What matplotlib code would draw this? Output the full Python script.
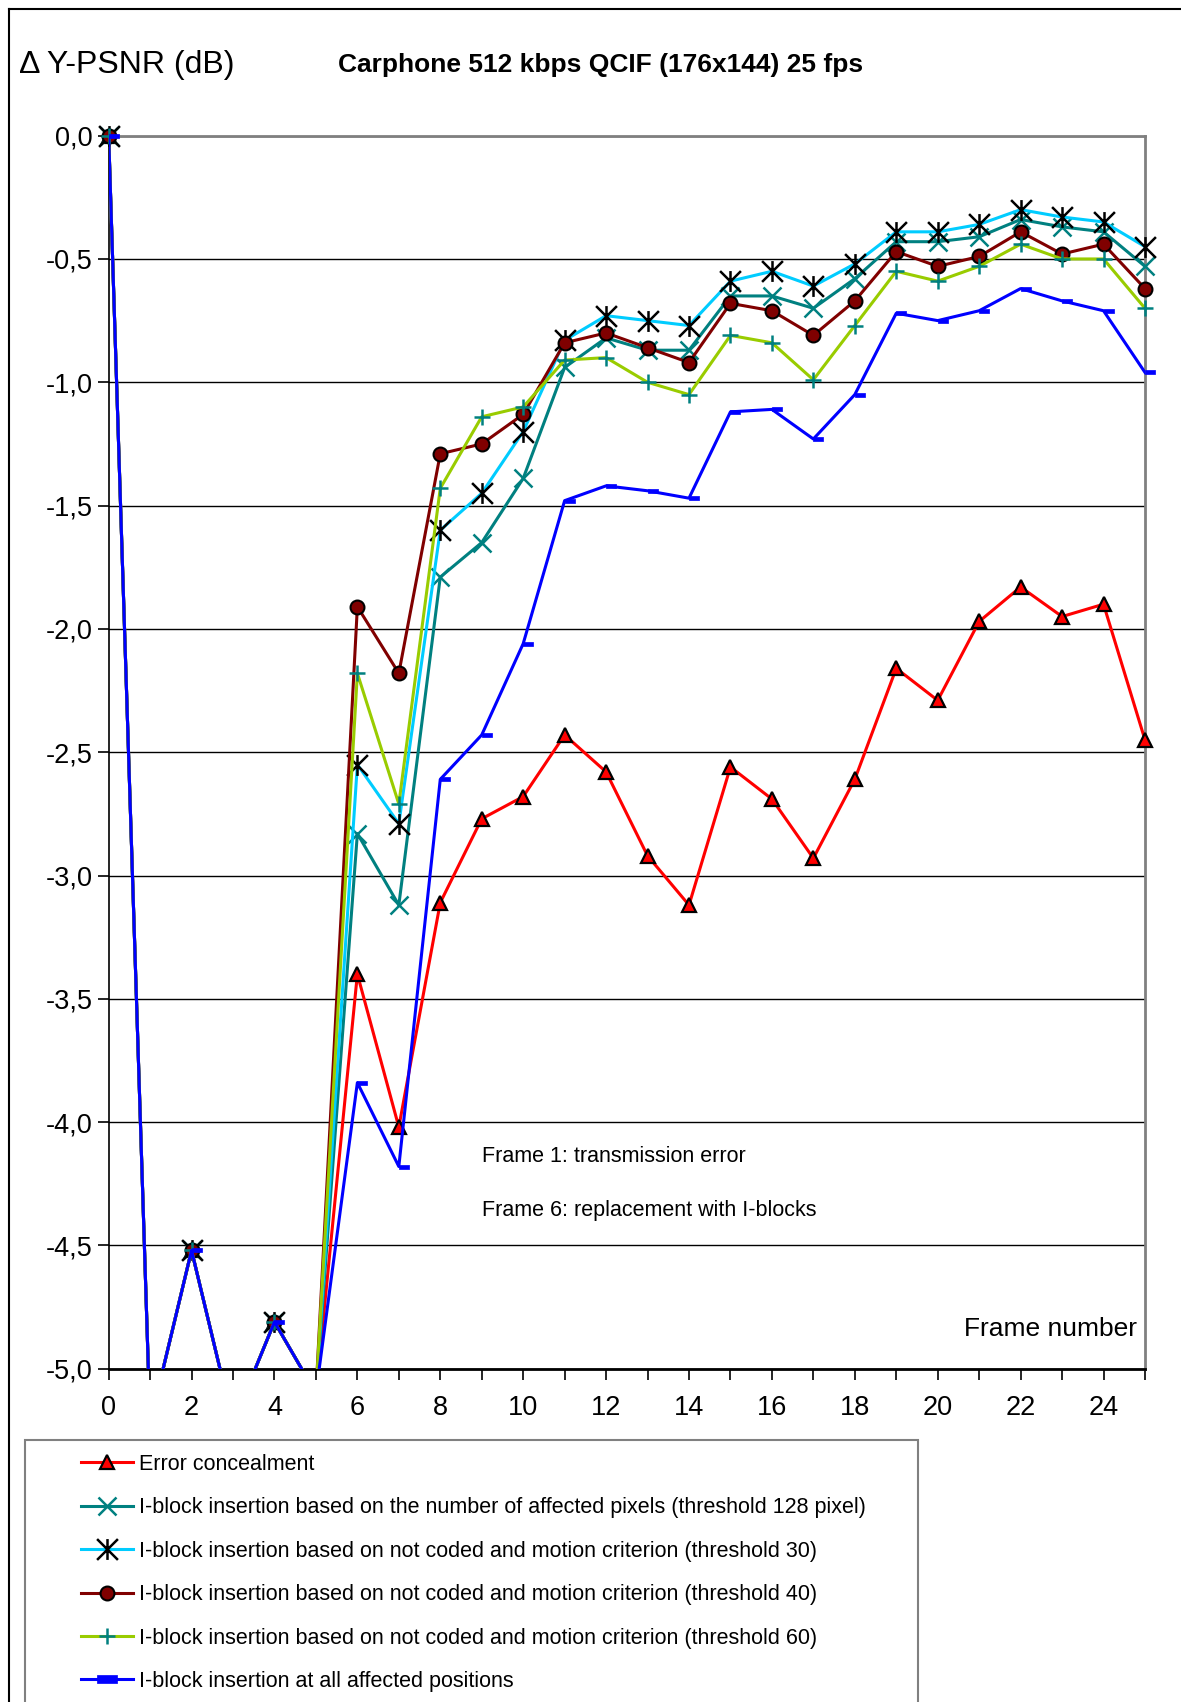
import numpy as np
import matplotlib.pyplot as plt
from matplotlib.path import Path
from matplotlib.lines import Line2D
from matplotlib.patches import Rectangle
from matplotlib.ticker import MultipleLocator, FuncFormatter

plt.rcParams['font.family'] = ['Liberation Sans', 'DejaVu Sans']

# Delta Y-PSNR per frame (dB); frames 0-5 are identical for all methods
frames = np.arange(26)
common = [0.0, -5.22, -4.52, -5.22, -4.81, -5.10]
err_conceal = common + [-3.40, -4.02, -3.11, -2.77, -2.68, -2.43, -2.58, -2.92, -3.12, -2.56,
                        -2.69, -2.93, -2.61, -2.16, -2.29, -1.97, -1.83, -1.95, -1.90, -2.45]
pix_128 = common + [-2.83, -3.12, -1.79, -1.65, -1.39, -0.94, -0.82, -0.87, -0.87, -0.65,
                    -0.65, -0.70, -0.58, -0.43, -0.43, -0.41, -0.34, -0.37, -0.39, -0.53]
thr_30 = common + [-2.55, -2.79, -1.60, -1.45, -1.20, -0.83, -0.73, -0.75, -0.77, -0.59,
                   -0.55, -0.61, -0.52, -0.39, -0.39, -0.36, -0.30, -0.33, -0.35, -0.45]
thr_40 = common + [-1.91, -2.18, -1.29, -1.25, -1.13, -0.84, -0.80, -0.86, -0.92, -0.68,
                   -0.71, -0.81, -0.67, -0.47, -0.53, -0.49, -0.39, -0.48, -0.44, -0.62]
thr_60 = common + [-2.18, -2.71, -1.43, -1.14, -1.10, -0.91, -0.90, -1.00, -1.05, -0.81,
                   -0.84, -0.99, -0.77, -0.55, -0.59, -0.53, -0.44, -0.50, -0.50, -0.70]
all_pos = common + [-3.84, -4.18, -2.61, -2.43, -2.06, -1.48, -1.42, -1.44, -1.47, -1.12,
                    -1.11, -1.23, -1.05, -0.72, -0.75, -0.71, -0.62, -0.67, -0.71, -0.96]

labels = [
    "Error concealment",
    "I-block insertion based on the number of affected pixels (threshold 128 pixel)",
    "I-block insertion based on not coded and motion criterion (threshold 30)",
    "I-block insertion based on not coded and motion criterion (threshold 40)",
    "I-block insertion based on not coded and motion criterion (threshold 60)",
    "I-block insertion at all affected positions",
]
series = [err_conceal, pix_128, thr_30, thr_40, thr_60, all_pos]

# excel-like markers: asterisk (x + vertical bar) and a short dash right of the point
star = Path([(-1, -1), (1, 1), (-1, 1), (1, -1), (0, -1), (0, 1)],
            [Path.MOVETO, Path.LINETO, Path.MOVETO, Path.LINETO, Path.MOVETO, Path.LINETO])
dash = Path([(0, -0.2), (1, -0.2), (1, 0.2), (0, 0.2), (0, -0.2)],
            [Path.MOVETO, Path.LINETO, Path.LINETO, Path.LINETO, Path.CLOSEPOLY])
dash_c = Path([(-0.5, -0.2), (0.5, -0.2), (0.5, 0.2), (-0.5, 0.2), (-0.5, -0.2)],
              [Path.MOVETO, Path.LINETO, Path.LINETO, Path.LINETO, Path.CLOSEPOLY])

styles = [
    dict(color='#FF0000', marker='^', mfc='#FF0000', mec='black', ms=10, mew=1.6),
    dict(color='#008080', marker='x', mfc='#008080', mec='#008080', ms=13, mew=1.8),
    dict(color='#00CCFF', marker=star, mfc='none', mec='black', ms=15, mew=1.8),
    dict(color='#800000', marker='o', mfc='#800000', mec='black', ms=10, mew=1.5),
    dict(color='#99CC00', marker='+', mfc='#008080', mec='#008080', ms=12, mew=1.8),
    dict(color='#0000FF', marker=dash, mfc='#0000FF', mec='#0000FF', ms=14, mew=0.5),
]

fig = plt.figure(figsize=(11.81, 17.02), dpi=100)
ax = fig.add_axes([0.0920, 0.1958, 0.8775, 0.7245])

handles = []
for i, (vals, st) in enumerate(zip(series, styles)):
    vals = np.array(vals)
    ax.plot(frames, vals, color=st['color'], lw=2.2, zorder=3 + 2 * i)
    inside = vals >= -5.0
    ax.plot(frames[inside], vals[inside], ls='none', marker=st['marker'],
            mfc=st['mfc'], mec=st['mec'], ms=st['ms'], mew=st['mew'],
            clip_on=False, zorder=4 + 2 * i)
    handles.append(Line2D([], [], color=st['color'], lw=2.2,
                          marker=dash_c if st['marker'] is dash else st['marker'],
                          mfc=st['mfc'], mec=st['mec'], ms=st['ms'], mew=st['mew']))

ax.set_xlim(0, 25)
ax.set_ylim(-5, 0)
ax.xaxis.set_major_locator(MultipleLocator(2))
ax.xaxis.set_minor_locator(MultipleLocator(1))
ax.yaxis.set_major_locator(MultipleLocator(0.5))
ax.yaxis.set_major_formatter(FuncFormatter(lambda v, p: f"{v:.1f}".replace('.', ',')))
ax.tick_params(axis='x', which='both', direction='out', length=8, width=1.2,
               pad=10.7, labelsize=19.5)
ax.tick_params(axis='y', direction='out', length=8, width=1.2, pad=3.8, labelsize=19.5)
ax.grid(axis='y', color='black', lw=1.0)
ax.set_axisbelow(True)

for side in ('top', 'right'):
    ax.spines[side].set_color('#808080')
    ax.spines[side].set_linewidth(2.0)
ax.spines['left'].set_linewidth(1.2)
ax.spines['bottom'].set_linewidth(2.0)

ax.text(9.0, -4.14, "Frame 1: transmission error", fontsize=15.5, va='center')
ax.text(9.0, -4.36, "Frame 6: replacement with I-blocks", fontsize=15.5, va='center')
ax.text(24.81, -4.84, "Frame number", fontsize=19, va='center', ha='right')

fig.text(0.0165, 0.9618, "\u0394 Y-PSNR (dB)", fontsize=23, va='center')
fig.text(0.2859, 0.9618, "Carphone 512 kbps QCIF (176x144) 25 fps", fontsize=19,
         fontweight='bold', va='center')

# chart border (left and top edges) and legend frame running off the bottom
fig.add_artist(Line2D([0.0074, 0.0074], [0, 0.9949], color='black', lw=1.5,
                      transform=fig.transFigure))
fig.add_artist(Line2D([0.0074, 1.0], [0.9949, 0.9949], color='black', lw=1.5,
                      transform=fig.transFigure))
fig.add_artist(Rectangle((25 / 1181, -0.01), (918 - 25) / 1181, (1702 - 1440) / 1702 + 0.01,
                         fill=False, edgecolor='#808080', lw=1.5, transform=fig.transFigure))

fig.legend(handles, labels, loc='upper left', bbox_to_anchor=(81 / 1181, 1 - 1454 / 1702),
           frameon=False, fontsize=15.5, handlelength=2.42, handletextpad=0.26,
           borderpad=0, borderaxespad=0, labelspacing=1.04)

fig.savefig('out.png', dpi=100)
